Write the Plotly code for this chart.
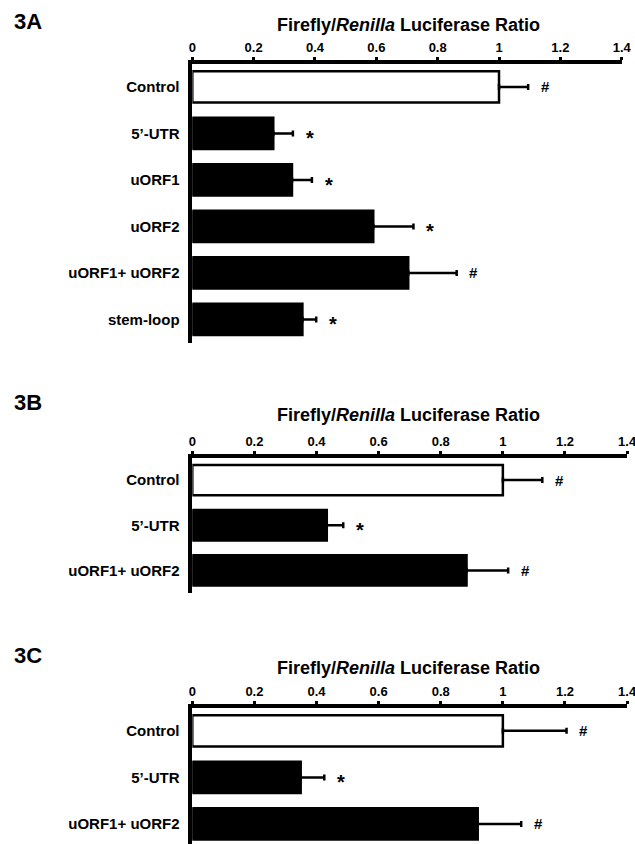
import plotly.graph_objects as go

W, H = 635, 844

# ---------------- data ----------------
cats_a = ["Control", "5’-UTR", "uORF1", "uORF2", "uORF1+ uORF2", "stem-loop"]
vals_a = [1.0, 0.264, 0.325, 0.590, 0.704, 0.359]
errs_a = [0.095, 0.064, 0.065, 0.131, 0.158, 0.045]
sig_a = ["#", "*", "*", "*", "#", "*"]

cats_b = ["Control", "5’-UTR", "uORF1+ uORF2"]
vals_b = [1.0, 0.433, 0.883]
errs_b = [0.127, 0.053, 0.134]
sig_b = ["#", "*", "#"]

cats_c = ["Control", "5’-UTR", "uORF1+ uORF2"]
vals_c = [1.0, 0.349, 0.919]
errs_c = [0.205, 0.076, 0.140]
sig_c = ["#", "*", "#"]

x_ticks = [0, 0.2, 0.4, 0.6, 0.8, 1.0, 1.2, 1.4]
x_tick_labels = ["0", "0.2", "0.4", "0.6", "0.8", "1", "1.2", "1.4"]
panel_labels = ["3A", "3B", "3C"]
axis_title = "<b>Firefly/<i>Renilla</i> Luciferase Ratio</b>"

FONT = "Liberation Sans, Arial, sans-serif"


def px_x(p):
    return p / W


def px_y(p):
    return 1 - p / H


panels = [
    dict(cats=cats_a, vals=vals_a, errs=errs_a, sig=sig_a,
         xdom=(192.3, 621.7), ydom=(63.7, 342.7), yrange=[5.5, -0.5],
         title_y=25, label_y=22),
    dict(cats=cats_b, vals=vals_b, errs=errs_b, sig=sig_b,
         xdom=(192.3, 627.1), ydom=(457.5, 593.0), yrange=[2.5, -0.5],
         title_y=415, label_y=402.7),
    dict(cats=cats_c, vals=vals_c, errs=errs_c, sig=sig_c,
         xdom=(192.3, 627.1), ydom=(707.5, 844.0), yrange=[2.43, -0.5],
         title_y=667.7, label_y=655.7),
]

fig = go.Figure()
annotations = []

for i, p in enumerate(panels):
    n = i + 1
    xa = "x" if n == 1 else f"x{n}"
    ya = "y" if n == 1 else f"y{n}"
    colors = ["white"] + ["black"] * (len(p["cats"]) - 1)
    fig.add_trace(go.Bar(
        x=p["vals"], y=p["cats"], orientation="h",
        marker=dict(color=colors, line=dict(color="black", width=2.5)),
        error_x=dict(type="data", array=p["errs"], arrayminus=[0] * len(p["errs"]),
                     symmetric=False, color="black", thickness=2.5, width=3),
        xaxis=xa, yaxis=ya, showlegend=False, hoverinfo="skip",
    ))
    xkey = "xaxis" if n == 1 else f"xaxis{n}"
    ykey = "yaxis" if n == 1 else f"yaxis{n}"
    fig.update_layout(**{
        xkey: dict(
            domain=[px_x(p["xdom"][0]), px_x(p["xdom"][1])],
            anchor=ya, side="top", range=[0, 1.4], automargin=False,
            tickmode="array", tickvals=x_ticks, ticktext=x_tick_labels,
            ticklabeloverflow="allow",
            showline=True, linecolor="black", linewidth=3.5,
            ticks="outside", ticklen=3, tickwidth=3, tickcolor="black",
            showgrid=False, zeroline=False,
            tickfont=dict(family=FONT, size=13, color="black", weight="bold"),
        ),
        ykey: dict(
            domain=[px_y(p["ydom"][1]), px_y(p["ydom"][0])],
            anchor=xa, range=p["yrange"], type="category", automargin=False,
            showline=True, linecolor="black", linewidth=3.5,
            ticks="", showgrid=False, zeroline=False,
            ticklabelstandoff=6,
            tickfont=dict(family=FONT, size=15, color="black", weight="bold"),
        ),
    })
    # significance marks
    for c, v, e, s in zip(p["cats"], p["vals"], p["errs"], p["sig"]):
        annotations.append(dict(
            x=v + e, y=c, xref=xa, yref=ya, text=f"<b>{s}</b>", showarrow=False,
            xanchor="center", yanchor="middle", xshift=17,
            yshift=-5 if s == "*" else 0,
            font=dict(family=FONT, size=20 if s == "*" else 15, color="black"),
        ))
    # axis title
    annotations.append(dict(
        x=px_x(408), y=px_y(p["title_y"]), xref="paper", yref="paper",
        text=axis_title, showarrow=False, xanchor="center", yanchor="middle",
        font=dict(family=FONT, size=18, color="black"),
    ))
    # panel label
    annotations.append(dict(
        x=px_x(12), y=px_y(p["label_y"]), xref="paper", yref="paper",
        text=f"<b>{panel_labels[i]}</b>", showarrow=False,
        xanchor="left", yanchor="middle",
        font=dict(family=FONT, size=22, color="black"),
    ))

fig.update_layout(
    width=W, height=H, margin=dict(l=0, r=0, t=0, b=0, autoexpand=False),
    paper_bgcolor="white", plot_bgcolor="white",
    bargap=0.33, annotations=annotations,
    font=dict(family=FONT, color="black"),
)

page_fix = (
    "var s=document.createElement('style');"
    "s.textContent='html,body{margin:0;padding:0;overflow:hidden;}"
    ".plotly-graph-div{display:block;}';"
    "document.head.appendChild(s);"
)

fig.write_html(
    "out.html",
    config={"displayModeBar": False, "responsive": False},
    post_script=page_fix,
)
